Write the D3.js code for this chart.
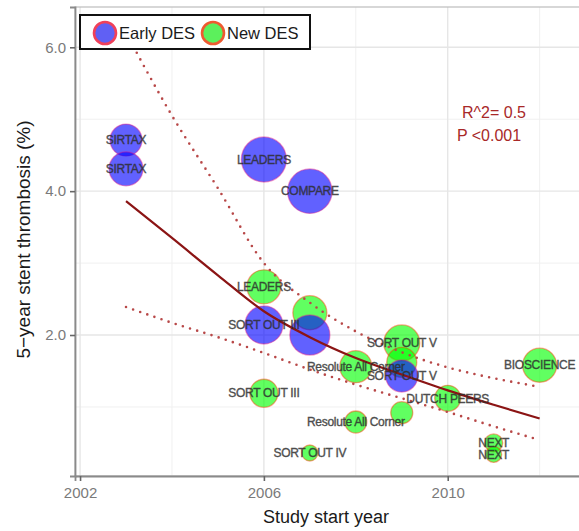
<!DOCTYPE html>
<html><head><meta charset="utf-8">
<script src="https://cdn.jsdelivr.net/npm/d3@7"></script>
<style>
html,body{margin:0;padding:0;background:#fff;}
svg{display:block;}
text{font-family:"Liberation Sans",Arial,Helvetica,sans-serif;}
</style></head>
<body><svg id="chart" width="579" height="531"></svg>
<script>
// ---- data ----
const studyLabels = ["SIRTAX","SIRTAX","LEADERS","COMPARE","LEADERS","","SORT OUT III","","Resolute All Corner","SORT OUT V","","SORT OUT V","DUTCH PEERS","","Resolute All Corner","SORT OUT IV","SORT OUT III","NEXT","NEXT","BIOSCIENCE"];
const studyYears  = [2003,2003,2006,2007,2006,2007,2006,2007,2008,2009,2009,2009,2010,2009,2008,2007,2006,2011,2011,2012];
const stRates     = [4.71,4.31,4.44,4.00,2.67,2.31,2.14,2.00,1.56,1.89,1.62,1.43,1.12,0.92,0.79,0.36,1.19,0.50,0.34,1.58];
const stentGroup  = ["Early","Early","Early","Early","New","New","Early","Early","New","New","New","Early","New","New","New","New","New","New","New","New"];
const studyWeight = [410,462,810,790,462,462,578,640,410,518,360,410,270,194,194,102,314,130,102,462];
const legendKeys  = ["Early DES","New DES"];
const fitYears    = [2003,2004,2005,2006,2007,2008,2009,2010,2011,2012];
const fitValues   = [3.86,3.35,2.83,2.33,1.97,1.68,1.45,1.23,1.03,0.84];
const ciUpper     = [6.20,5.05,4.04,3.00,2.45,2.05,1.76,1.55,1.40,1.28];
const ciLower     = [2.39,2.17,1.97,1.75,1.52,1.31,1.12,0.93,0.73,0.54];
const xTicks      = [2002,2006,2010];
const xMinor      = [2004,2008,2012];
const yTicks      = [2,4,6];
const yMinor      = [1,3,5];
const annotation  = ["R^2= 0.5","P <0.001"];

// ---- layout ----
const svg = d3.select("#chart");
const L = 75, R = 581, T = 7, B = 476;
const x = d3.scaleLinear().domain([2001.89, 2012.9]).range([L, R]);
const y = d3.scaleLinear().domain([0.04, 6.56]).range([B, T]);
const r = d3.scaleSqrt().domain([0, 800]).range([0, 22.4]);

const fillC = {Early:"#0000ff", New:"#00ff00"};

// grid
const g = svg.append("g");
g.selectAll(".vmin").data(xMinor).join("line").attr("x1",d=>x(d)).attr("x2",d=>x(d)).attr("y1",T).attr("y2",B).attr("stroke","#f0f0f0").attr("stroke-width",1);
g.selectAll(".hmin").data(yMinor).join("line").attr("y1",d=>y(d)).attr("y2",d=>y(d)).attr("x1",L).attr("x2",R).attr("stroke","#f0f0f0").attr("stroke-width",1);
g.selectAll(".vmaj").data(xTicks).join("line").attr("x1",d=>x(d)).attr("x2",d=>x(d)).attr("y1",T).attr("y2",B).attr("stroke","#e6e6e6").attr("stroke-width",1.4);
g.selectAll(".hmaj").data(yTicks).join("line").attr("y1",d=>y(d)).attr("y2",d=>y(d)).attr("x1",L).attr("x2",R).attr("stroke","#e6e6e6").attr("stroke-width",1.4);

// panel border
svg.append("rect").attr("x",L).attr("y",T).attr("width",R-L).attr("height",B-T).attr("fill","none").attr("stroke","#bdbdbd").attr("stroke-width",1.2);

// axes
const xAxis = svg.append("g").attr("transform",`translate(0,${B})`)
  .call(d3.axisBottom(x).tickValues(xTicks).tickFormat(d3.format("d")).tickSize(5).tickPadding(6));
const yAxis = svg.append("g").attr("transform",`translate(${L},0)`)
  .call(d3.axisLeft(y).tickValues(yTicks).tickFormat(d3.format(".1f")).tickSize(5).tickPadding(4));
[xAxis,yAxis].forEach(a=>{
  a.select(".domain").attr("stroke","#8a8a8a").attr("stroke-width",1.8);
  a.selectAll(".tick line").attr("stroke","#666").attr("stroke-width",1.6);
  a.selectAll(".tick text").attr("fill","#7a7a7a").attr("font-size","15px");
});

// bubbles
const pts = studyYears.map((yr,i)=>({yr, v:stRates[i], g:stentGroup[i], w:studyWeight[i], lab:studyLabels[i]}));
svg.append("g").selectAll("circle").data(pts).join("circle")
  .attr("cx",d=>x(d.yr)).attr("cy",d=>y(d.v)).attr("r",d=>r(d.w))
  .attr("fill",d=>fillC[d.g]).attr("fill-opacity",0.62)
  .attr("stroke",d=>d.g==="Early" ? "#e0208a" : "#ff3a00").attr("stroke-opacity",0.45).attr("stroke-width",1.3);

// fit lines
const lineGen = d3.line().x(d=>x(d[0])).y(d=>y(d[1])).curve(d3.curveMonotoneX);
svg.append("path").datum(fitYears.map((yr,i)=>[yr,ciUpper[i]])).attr("d",lineGen)
  .attr("fill","none").attr("stroke","#b84848").attr("stroke-width",2.6).attr("stroke-linecap","round").attr("stroke-dasharray","0,7.5");
svg.append("path").datum(fitYears.map((yr,i)=>[yr,ciLower[i]])).attr("d",lineGen)
  .attr("fill","none").attr("stroke","#b84848").attr("stroke-width",2.6).attr("stroke-linecap","round").attr("stroke-dasharray","0,7.5");
svg.append("path").datum(fitYears.map((yr,i)=>[yr,fitValues[i]])).attr("d",lineGen)
  .attr("fill","none").attr("stroke","#8b1414").attr("stroke-width",2.2);

// labels
svg.append("g").selectAll("text").data(pts.filter(d=>d.lab)).join("text")
  .attr("x",d=>x(d.yr)).attr("y",d=>y(d.v)).attr("dy","0.35em").attr("text-anchor","middle")
  .attr("font-size","12px").attr("fill","#2e2e2e").attr("stroke","#2e2e2e").attr("stroke-width",0.35)
  .attr("letter-spacing","-0.3px").attr("opacity",0.85).text(d=>d.lab);

// annotation
svg.append("g").selectAll("text").data(annotation).join("text")
  .attr("x",(d,i)=> i===0 ? 494 : 489).attr("y",(d,i)=>118+i*23).attr("text-anchor","middle")
  .attr("font-size","16px").attr("fill","#a82828").text(d=>d);

// legend
const lg = svg.append("g");
lg.append("rect").attr("x",80).attr("y",15).attr("width",230).attr("height",34).attr("fill","#fff").attr("stroke","#111").attr("stroke-width",2);
const lgX = [105, 213];
legendKeys.forEach((k,i)=>{
  lg.append("circle").attr("cx",lgX[i]).attr("cy",33).attr("r",11)
    .attr("fill", i===0 ? "#6060f4" : "#5cf05c")
    .attr("stroke", i===0 ? "#f0405a" : "#ee5a30").attr("stroke-width",2.6);
  lg.append("text").attr("x",lgX[i]+14).attr("y",33).attr("dy","0.36em").attr("font-size","16.5px").attr("fill","#1a1a1a").text(k);
});

// axis titles
svg.append("text").attr("x",(L+R)/2 - 2).attr("y",523).attr("text-anchor","middle").attr("font-size","18px").attr("fill","#1a1a1a").text("Study start year");
svg.append("text").attr("transform",`translate(30,${(T+B)/2 - 2}) rotate(-90)`).attr("text-anchor","middle").attr("font-size","19px").attr("fill","#1a1a1a").text("5\u2212year stent thrombosis (%)");
</script></body></html>
